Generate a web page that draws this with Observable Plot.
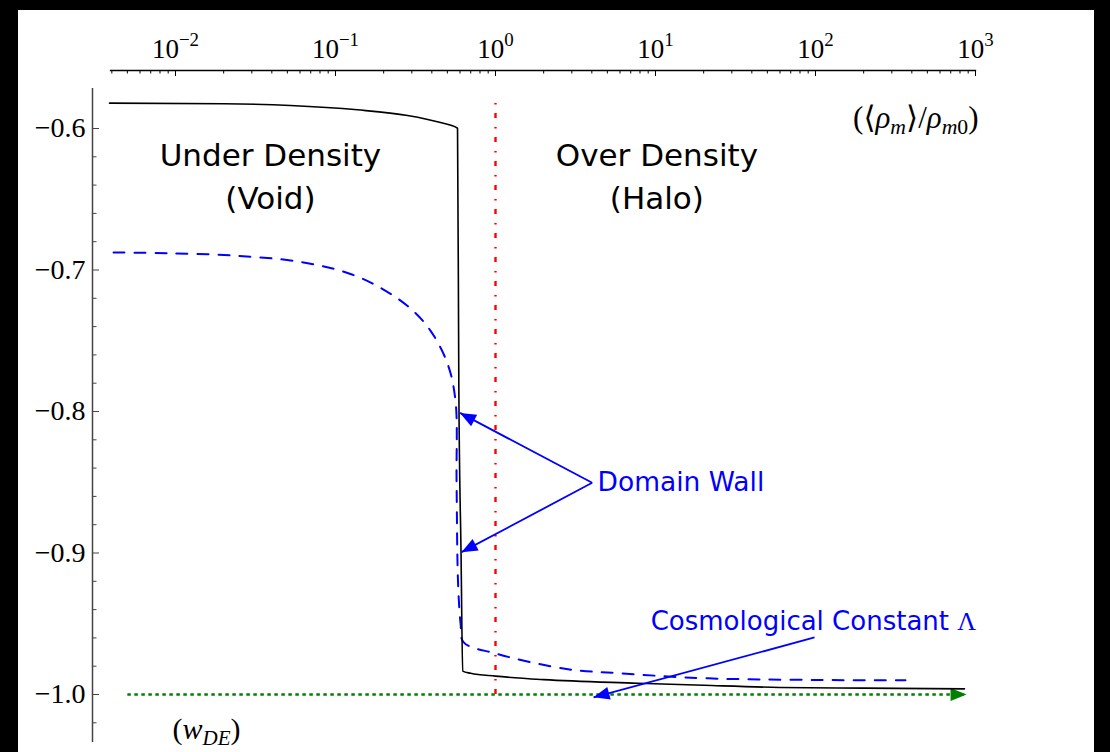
<!DOCTYPE html>
<html><head><meta charset="utf-8">
<script src="https://cdn.jsdelivr.net/npm/d3@7"></script>
<script src="https://cdn.jsdelivr.net/npm/@observablehq/plot@0.6"></script>
<style>
html,body{margin:0;padding:0;background:#000;}
#wrap{position:absolute;left:18px;top:10px;width:1076px;height:742px;background:#fff;overflow:hidden;}
</style></head><body><div id="wrap"></div>
<script>
// ---- data ----
// solid black curve: w_DE vs <rho_m>/rho_m0
const solidRho = [0.00387, 0.0200, 0.0523, 0.137, 0.282, 0.453, 0.579, 0.590, 0.609, 0.624, 0.70, 1.0, 2.0, 7.72, 20, 59.6, 200, 853];
const solidW   = [-0.5821, -0.5825, -0.5837, -0.5868, -0.5908, -0.5958, -0.5998, -0.783, -0.90, -0.9835, -0.985, -0.987, -0.9895, -0.992, -0.9935, -0.995, -0.9955, -0.996];
// dashed blue curve
const dashedRho = [0.0041, 0.00891, 0.0230, 0.0604, 0.124, 0.1995, 0.294, 0.392, 0.501, 0.562, 0.571, 0.583, 0.605, 0.631, 1.0, 2.78, 6.04, 21.4, 365];
const dashedW   = [-0.6876, -0.6881, -0.6898, -0.6943, -0.7028, -0.7138, -0.7272, -0.7428, -0.7661, -0.7922, -0.85, -0.92, -0.95, -0.963, -0.971, -0.982, -0.985, -0.9886, -0.990];
// cosmological constant (green dotted arrow)
const lambdaRho = [0.005, 879];
const lambdaW = -1.0;
// rho = rho0 divider
const dividerRho = 1;
const dividerW = [-1.0, -0.581];
// axis ticks
const xMajor = [0.01, 0.1, 1, 10, 100, 1000];
const xMinor = [2,3,4,5,6,7,8,9].flatMap(m => [0.001, 0.01, 0.1, 1, 10, 100].map(p => m * p)).filter(v => v > 0.0039 && v < 1000);
const yMajor = [-1.0, -0.9, -0.8, -0.7, -0.6];
const yMinor = [-1.02, -0.98, -0.96, -0.94, -0.92, -0.88, -0.86, -0.84, -0.82, -0.78, -0.76, -0.74, -0.72, -0.68, -0.66, -0.64, -0.62];
// scale extents
const xDomain = [Math.pow(10, -2.40625), 1000];
const yDomain = [-1.03392, -0.55901];
const spineRho = Math.pow(10, -2.51875);
const spineW = [-1.03392, -0.5717];
// annotations
const regionLabels = ["Under Density\n(Void)", "Over Density\n(Halo)"];
const regionRho = [0.0392, 10.2];
const regionW = -0.6322;
const wallLabel = "Domain Wall";
const wallTail = [4.02, -0.8504];
const wallTips = [[0.60, -0.801], [0.613, -0.8994]];
const lambdaLabel = "Cosmological Constant Λ";
const lambdaLabelPos = [9.33, -0.9484];
const lambdaArrow = [[98.6, -0.9597], [4.10, -1.002]];
const xLabel = "(⟨ρ_{m}⟩/ρ_{m0})";
const xLabelPos = [1044, -0.5925];
const yLabel = "(w_{DE})";
const yLabelPos = [0.00958, -1.0248];

// ---- build ----
const solid = solidRho.map((x, i) => ({x, w: solidW[i]}));
const dashed = dashedRho.map((x, i) => ({x, w: dashedW[i]}));
const wallLinks = wallTips.map(t => ({x1: wallTail[0], y1: wallTail[1], x2: t[0], y2: t[1]}));
const lamLinks = [{x1: lambdaArrow[0][0], y1: lambdaArrow[0][1], x2: lambdaArrow[1][0], y2: lambdaArrow[1][1]}];
const greenLinks = [{x1: lambdaRho[0], y1: lambdaW, x2: lambdaRho[1], y2: lambdaW}];
const sup = n => (n < 0 ? "−" : "") + Math.abs(n);
const serif = "'Liberation Serif', 'DejaVu Serif', serif";
const sans = "'DejaVu Sans', sans-serif";

const chart = Plot.plot({
  width: 1076, height: 742,
  marginLeft: 92, marginRight: 119, marginTop: 60, marginBottom: 10,
  x: {type: "log", domain: xDomain},
  y: {domain: yDomain},
  style: {fontFamily: serif, fontSize: "21px", color: "#000", background: "#fff", overflow: "visible"},
  marks: [
    Plot.frame({anchor: "top", stroke: "#000", strokeWidth: 1.3}),
    Plot.axisX({anchor: "top", ticks: xMajor, tickSize: 0, tickPadding: 13, label: null,
      tickFormat: d => `10^{${sup(Math.round(Math.log10(d)))}}`, fontSize: 27}),
    Plot.axisX({anchor: "bottom", ticks: xMajor, tickSize: 6, fill: "none", label: null, dy: -672}),
    Plot.axisX({anchor: "bottom", ticks: xMinor, tickSize: 3.5, fill: "none", label: null, dy: -672}),
    Plot.ruleX([spineRho], {y1: spineW[0], y2: spineW[1], stroke: "#444", strokeWidth: 1.5}),
    Plot.axisY({anchor: "right", ticks: yMajor, tickSize: 6, fill: "none", label: null, dx: -883, stroke: "#444"}),
    Plot.axisY({anchor: "right", ticks: yMinor, tickSize: 3.5, fill: "none", label: null, dx: -883, stroke: "#444"}),
    Plot.axisY({anchor: "left", ticks: yMajor, tickSize: 0, tickPadding: 25, label: null,
      tickFormat: d => (d < 0 ? "−" : "") + Math.abs(d).toFixed(1), fontSize: 28}),
    Plot.ruleX([dividerRho], {y1: dividerW[0], y2: dividerW[1], stroke: "#ff0000", strokeWidth: 2.4, strokeDasharray: "5,8.5,1.5,9"}),
    Plot.link(greenLinks, {x1: "x1", y1: "y1", x2: "x2", y2: "y2", stroke: "#008000", strokeWidth: 2.6, strokeDasharray: "3.5,3.5", markerEnd: "arrow"}),
    Plot.line(dashed, {x: "x", y: "w", stroke: "#0000ff", strokeWidth: 2, strokeDasharray: "11,10", curve: "catmull-rom"}),
    Plot.line(solid, {x: "x", y: "w", stroke: "#000", strokeWidth: 1.6, curve: "monotone-x"}),
    Plot.link(wallLinks, {x1: "x1", y1: "y1", x2: "x2", y2: "y2", stroke: "#0000ff", strokeWidth: 1.8, markerEnd: "arrow"}),
    Plot.link(lamLinks, {x1: "x1", y1: "y1", x2: "x2", y2: "y2", stroke: "#0000ff", strokeWidth: 1.8, markerEnd: "arrow"}),
    Plot.text(regionLabels, {x: (d, i) => regionRho[i], y: () => regionW, text: d => d, fontFamily: sans, fontSize: 31, lineHeight: 1.39, fill: "#000", textAnchor: "middle", lineAnchor: "middle"}),
    Plot.text([wallLabel], {x: () => wallTail[0] * 1.08, y: () => wallTail[1], text: d => d, fontFamily: sans, fontSize: 26.5, fill: "#0000ff", textAnchor: "start", lineAnchor: "middle"}),
    Plot.text([lambdaLabel], {x: () => lambdaLabelPos[0], y: () => lambdaLabelPos[1], text: d => d, fontFamily: sans, fontSize: 26, fill: "#0000ff", textAnchor: "start", lineAnchor: "middle"}),
    Plot.text([xLabel], {x: () => xLabelPos[0], y: () => xLabelPos[1], text: d => d, fontFamily: serif, fontSize: 31, fill: "#000", textAnchor: "end", lineAnchor: "middle"}),
    Plot.text([yLabel], {x: () => yLabelPos[0], y: () => yLabelPos[1], text: d => d, fontFamily: serif, fontSize: 30, fill: "#000", textAnchor: "start", lineAnchor: "middle"})
  ]
});

// filled triangular arrow heads
chart.querySelectorAll("marker").forEach(m => {
  const c = m.getAttribute("stroke") || "#000";
  m.setAttribute("markerUnits", "userSpaceOnUse");
  m.setAttribute("viewBox", "-17 -7 17 14");
  m.setAttribute("markerWidth", "17");
  m.setAttribute("markerHeight", "14");
  m.setAttribute("refX", "0");
  m.setAttribute("refY", "0");
  m.setAttribute("fill", c);
  m.setAttribute("stroke", "none");
  m.innerHTML = "";
  const p = document.createElementNS("http://www.w3.org/2000/svg", "path");
  p.setAttribute("d", "M-16,-6.5L0,0L-16,6.5Z");
  m.appendChild(p);
});

// TeX-like sub/superscripts
const NS = "http://www.w3.org/2000/svg";
function mathify(el) {
  const s = el.textContent;
  if (!/[_^]\{/.test(s)) return;
  const fs = parseFloat(el.getAttribute("font-size")) || parseFloat(getComputedStyle(el).fontSize) || 21;
  while (el.firstChild) el.removeChild(el.firstChild);
  const segs = [];
  const re = /([_^])\{([^}]*)\}/g;
  let last = 0, m;
  while ((m = re.exec(s))) {
    if (m.index > last) segs.push({kind: "", str: s.slice(last, m.index)});
    segs.push({kind: m[1], str: m[2]});
    last = re.lastIndex;
  }
  if (last < s.length) segs.push({kind: "", str: s.slice(last)});
  let offset = 0;
  for (const seg of segs) {
    const target = seg.kind === "_" ? 0.2 * fs : seg.kind === "^" ? -0.42 * fs : 0;
    const parts = seg.str.match(/[A-Za-zα-ω]+|[^A-Za-zα-ω]+/g) || [];
    parts.forEach((p, j) => {
      const t = document.createElementNS(NS, "tspan");
      t.textContent = p;
      if (j === 0 && target !== offset) { t.setAttribute("dy", target - offset); offset = target; }
      if (seg.kind) t.setAttribute("font-size", 0.7 * fs);
      if (/[A-Za-zα-ω]/.test(p)) t.setAttribute("font-style", "italic");
      el.appendChild(t);
    });
  }
}
document.getElementById("wrap").appendChild(chart);
chart.querySelectorAll("text").forEach(mathify);
// serif Lambda in the sans label
chart.querySelectorAll("text").forEach(el => {
  if (el.textContent === lambdaLabel) {
    el.textContent = "";
    const a = document.createElementNS(NS, "tspan"); a.textContent = lambdaLabel.slice(0, -1);
    const b = document.createElementNS(NS, "tspan"); b.textContent = "Λ"; b.setAttribute("font-family", serif);
    el.appendChild(a); el.appendChild(b);
  }
});
</script></body></html>
